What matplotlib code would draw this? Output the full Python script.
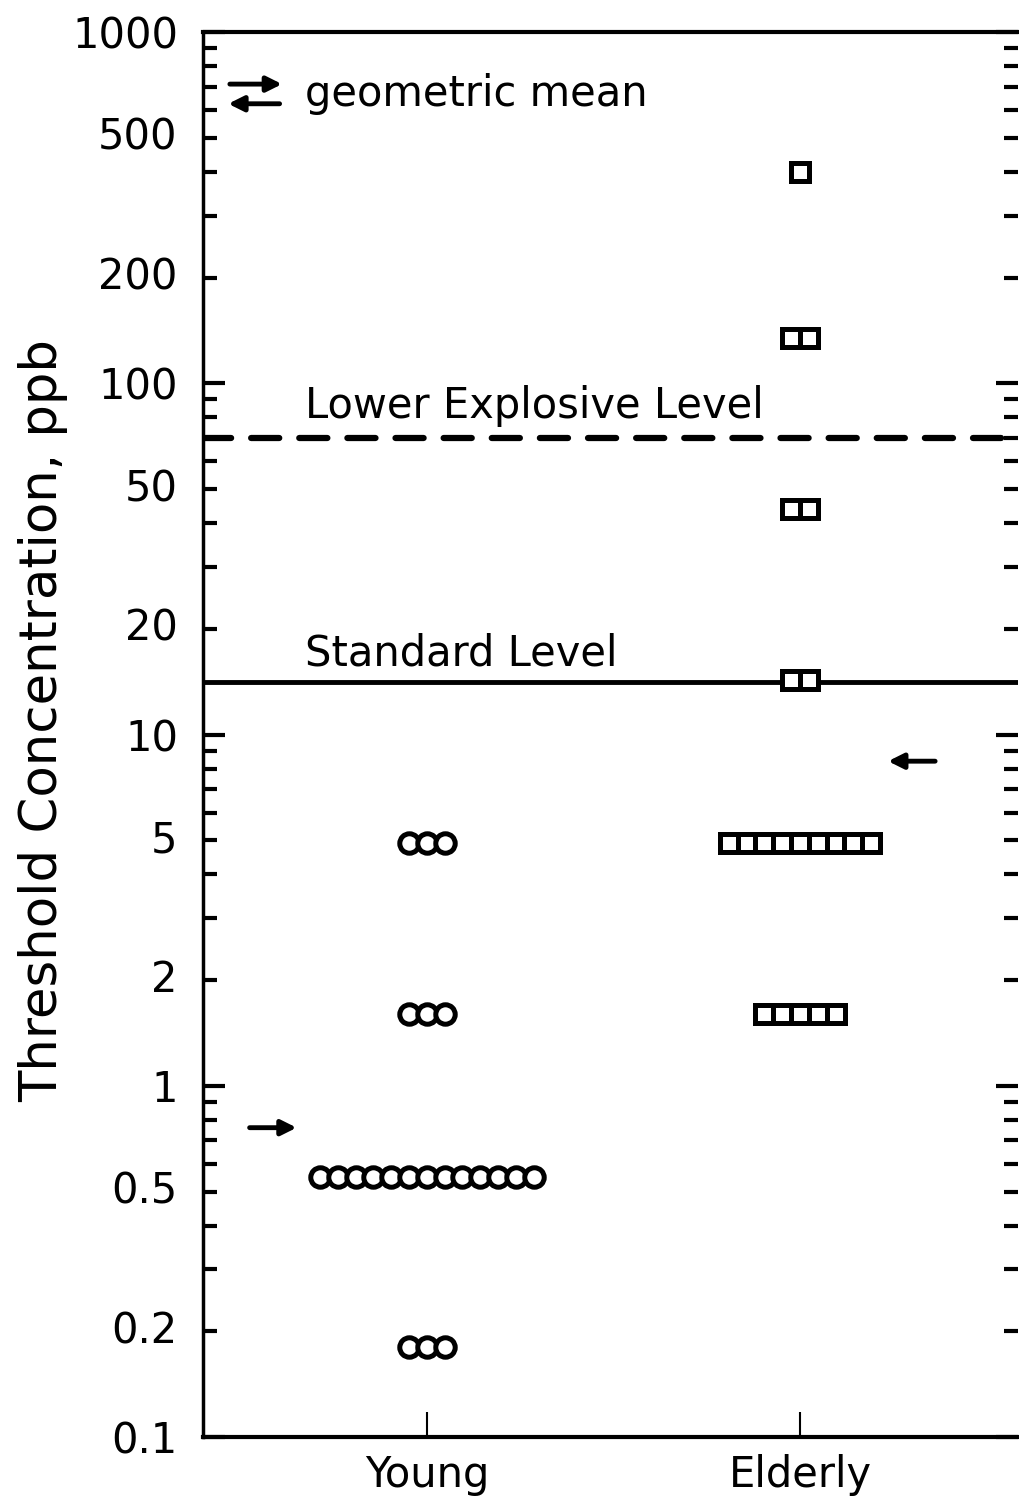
import matplotlib.pyplot as plt
from matplotlib.ticker import FixedLocator, FixedFormatter, NullFormatter

# threshold rows: level (ppb) and number of subjects at that level
young_levels = [4.9, 1.6, 0.55, 0.18]
young_counts = [3, 3, 13, 3]
elderly_levels = [400, 135, 44, 14.3, 4.9, 1.6]
elderly_counts = [1, 2, 2, 2, 9, 5]

young_mean = 0.76
elderly_mean = 8.4
lower_explosive = 70
standard_level = 14.1

groups = ["Young", "Elderly"]
ytick_vals = [0.1, 0.2, 0.5, 1, 2, 5, 10, 20, 50, 100, 200, 500, 1000]
ytick_labels = ["0.1", "0.2", "0.5", "1", "2", "5", "10", "20", "50",
                "100", "200", "500", "1000"]

plt.rcParams['font.family'] = ['DejaVu Sans']
fig = plt.figure(figsize=(10.2, 15.01), dpi=100)
ax = fig.add_axes([0.199, 0.0426, 0.799, 0.936])

step = 0.0477


def row(xc, level, n, marker, size):
    xs = [xc + (i - (n - 1) / 2) * step for i in range(n)]
    ax.plot(xs, [level] * n, linestyle='none', marker=marker, ms=size,
            mfc='white', mec='black', mew=3.6, zorder=4)


for lev, n in zip(young_levels, young_counts):
    row(1, lev, n, 'o', 14)
for lev, n in zip(elderly_levels, elderly_counts):
    row(2, lev, n, 's', 12.5)

# reference levels
ax.axhline(lower_explosive, color='black', lw=4.5, ls=(0, (4.5, 3.2)),
           dash_capstyle='round', zorder=2)
ax.axhline(standard_level, color='black', lw=3.5, zorder=2)
ax.annotate("Lower Explosive Level", (0.673, lower_explosive),
            xytext=(0, 14), textcoords='offset points', fontsize=30,
            va='baseline', ha='left')
ax.annotate("Standard Level", (0.673, standard_level),
            xytext=(0, 12), textcoords='offset points', fontsize=30,
            va='baseline', ha='left')

# geometric mean arrows
arrow = dict(arrowstyle='-|>,head_length=0.9,head_width=0.45',
             color='black', lw=3.5, shrinkA=0, shrinkB=0)
ax.annotate("", xy=(0.651, young_mean), xytext=(0.525, young_mean),
            arrowprops=arrow)
ax.annotate("", xy=(2.236, elderly_mean), xytext=(2.362, elderly_mean),
            arrowprops=arrow)

# key in the upper-left corner
ax.annotate("", xy=(0.097, 0.963), xytext=(0.033, 0.963),
            xycoords='axes fraction', arrowprops=arrow)
ax.annotate("", xy=(0.031, 0.949), xytext=(0.094, 0.949),
            xycoords='axes fraction', arrowprops=arrow)
ax.text(0.125, 0.956, "geometric mean", transform=ax.transAxes,
        fontsize=30, va='center', ha='left')

ax.set_yscale('log')
ax.set_ylim(0.1, 1000)
ax.set_xlim(0.40, 2.584)

major = [0.1, 1, 10, 100, 1000]
minor = [m * d for d in [0.1, 1, 10, 100] for m in range(2, 10)]
ax.yaxis.set_major_locator(FixedLocator(major))
ax.yaxis.set_minor_locator(FixedLocator(minor))
ax.yaxis.set_major_formatter(FixedFormatter(["0.1", "1", "10", "100", "1000"]))
ax.yaxis.set_minor_formatter(NullFormatter())
for v, lab in zip(ytick_vals, ytick_labels):
    if v not in major:
        ax.text(-0.031, v, lab, transform=ax.get_yaxis_transform(),
                fontsize=30, ha='right', va='center')

ax.tick_params(axis='y', which='both', direction='in', left=True, right=True,
               labelsize=30, pad=18, width=3)
ax.tick_params(axis='y', which='major', length=16)
ax.tick_params(axis='y', which='minor', length=10)

ax.set_xticks([1, 2])
ax.set_xticklabels(groups)
ax.tick_params(axis='x', direction='in', length=18, width=1.5,
               labelsize=30, pad=12, top=False)

ax.spines['right'].set_visible(False)
ax.spines['top'].set_linewidth(3)
ax.spines['left'].set_linewidth(2.5)
ax.spines['bottom'].set_linewidth(3)

ax.set_ylabel("Threshold Concentration, ppb", fontsize=37)
ax.yaxis.set_label_coords(-0.165, 0.51)

fig.savefig("out.png", dpi=100)
